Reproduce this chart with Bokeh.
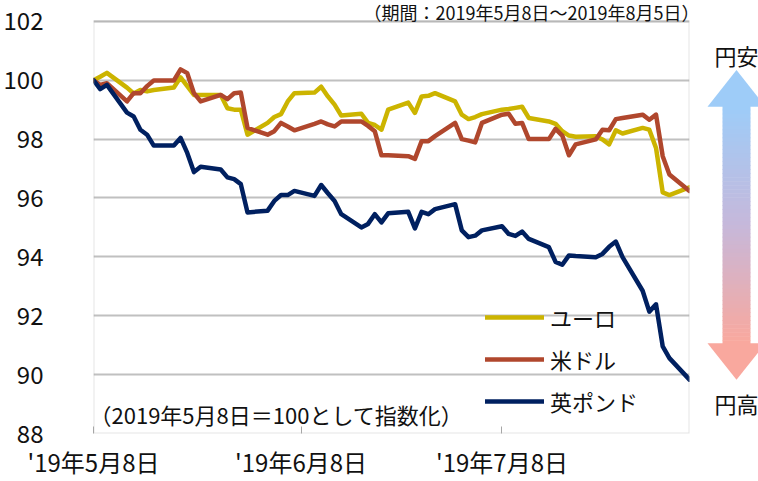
import pandas as pd
from bokeh.plotting import figure
from bokeh.models import Range1d, FixedTicker, Legend, LegendItem, Label, BoxAnnotation
from bokeh.layouts import row
from bokeh.core.properties import value
from bokeh.embed import file_html
from bokeh.resources import INLINE

# ---------------- data ----------------
dates = pd.bdate_range("2019-05-08", "2019-08-05")

euro = [100.0, 100.12, 100.25, 99.75, 99.55, 99.67, 99.62, 99.67, 99.75, 100.1,
        99.8, 99.5, 99.5, 99.5, 99.05, 99.0, 99.0, 98.15,
        98.55, 98.75, 98.85, 99.28, 99.56, 99.58, 99.78, 99.45, 99.17, 98.8,
        98.86, 98.55, 98.48, 98.32, 99.0, 99.24, 98.89, 99.45, 99.47, 99.56,
        99.28, 98.83, 98.68, 98.75, 98.85, 99.0, 99.02, 99.06, 99.1, 98.72,
        98.6, 98.52, 98.27, 98.12, 98.08, 98.1, 97.99, 97.82, 98.3, 98.19,
        98.38, 98.32, 97.7,
        96.19, 96.1, 96.36]

usd = [100.0, 99.84, 99.9, 99.28, 99.56, 99.56, 99.8, 99.99, 99.99, 100.37,
       100.24, 99.56, 99.28, 99.5, 99.36, 99.56, 99.58, 98.38,
       98.15, 98.27, 98.55, 98.43, 98.3, 98.52, 98.6, 98.5, 98.43, 98.6,
       98.6, 98.45, 98.27, 97.45, 97.45, 97.42, 97.33, 97.93, 97.93, 98.1,
       98.55, 98.0, 97.95, 97.89, 98.55, 98.83, 98.86, 98.52, 98.55, 98.0,
       98.0, 98.35, 98.12, 97.45, 97.82, 97.99, 98.32, 98.3, 98.68, 98.72,
       98.83, 98.66, 98.83,
       97.42, 96.8, 96.24]

gbp = [100.0, 99.7, 99.84, 98.9, 98.77, 98.32, 98.15, 97.78, 97.78, 98.04,
       97.53, 96.88, 97.06, 96.97, 96.70, 96.64, 96.47, 95.51,
       95.57, 95.9, 96.1, 96.1, 96.24, 96.07, 96.44, 96.16, 95.9, 95.45,
       95.0, 95.12, 95.45, 95.17, 95.48, 95.53, 94.97, 95.53, 95.45, 95.62,
       95.79, 94.9, 94.67, 94.72, 94.9, 95.04, 94.78, 94.71, 94.86, 94.61,
       94.33, 93.83, 93.73, 94.05, 94.03, 93.99, 94.1, 94.34, 94.52, 93.99,
       92.85, 92.14, 92.39,
       90.96, 90.56, 89.83]

series_names = ["ユーロ", "米ドル", "英ポンド"]
series_colors = ["#CCB400", "#B0472D", "#002060"]
y_ticks = [88, 90, 92, 94, 96, 98, 100, 102]
x_tick_dates = ["2019-05-08", "2019-06-08", "2019-07-08"]
x_tick_labels = ["'19年5月8日", "'19年6月8日", "'19年7月8日"]
title_text = "（期間：2019年5月8日～2019年8月5日）"
note_text = "（2019年5月8日＝100として指数化）"
arrow_labels = ["円安", "円高"]

FONT = "Noto Sans CJK JP"
GRAY = "#A6A6A6"


def ms(d):
    return pd.Timestamp(d).timestamp() * 1000.0


# ---------------- layout geometry (pixels) ----------------
W_MAIN, H = 698, 481
BORDER_L, BORDER_R, BORDER_B = 86, 9, 45
TOP_GAP = 21                      # space above the y=102 line (inside frame)
frame_h = H - BORDER_B
plot_h = frame_h - TOP_GAP
y_lo, y_hi = y_ticks[0], y_ticks[-1]
y_top = y_lo + (y_hi - y_lo) * frame_h / plot_h

# ---------------- main chart ----------------
p = figure(width=W_MAIN, height=H, x_axis_type="datetime",
           output_backend="svg", toolbar_location=None,
           x_range=Range1d(ms(dates[0]), ms(dates[-1])),
           y_range=Range1d(y_lo, y_top))
p.min_border_left = BORDER_L
p.min_border_right = BORDER_R
p.min_border_top = 0
p.min_border_bottom = BORDER_B
p.background_fill_color = "white"
p.border_fill_color = "white"
p.outline_line_color = None

p.ygrid.ticker = FixedTicker(ticks=y_ticks)
p.ygrid.grid_line_color = "#C0C0C0"
p.ygrid.grid_line_width = 2
p.xgrid.grid_line_color = None

frame_box = BoxAnnotation(top=y_hi, fill_alpha=0, line_color=GRAY, line_width=2)
p.add_layout(frame_box)

renderers = []
for vals, col in zip([euro, usd, gbp], series_colors):
    r = p.line(x=list(dates), y=vals, line_color=col, line_width=4.5,
               line_join="round", line_cap="round")
    renderers.append(r)

# axes
p.yaxis.ticker = FixedTicker(ticks=y_ticks)
p.yaxis.major_tick_line_color = None
p.yaxis.minor_tick_line_color = None
p.yaxis.axis_line_color = None
p.yaxis.major_label_text_font = FONT
p.yaxis.major_label_text_font_size = "24px"
p.yaxis.major_label_text_color = "#111111"
p.yaxis.major_label_standoff = 44

tick_ms = [int(ms(d)) for d in x_tick_dates]
p.xaxis.ticker = FixedTicker(ticks=tick_ms)
p.xaxis.major_label_overrides = {t: lab for t, lab in zip(tick_ms, x_tick_labels)}
p.xaxis.major_tick_in = 7
p.xaxis.major_tick_out = 0
p.xaxis.major_tick_line_color = GRAY
p.xaxis.major_tick_line_width = 1
p.xaxis.minor_tick_line_color = None
p.xaxis.axis_line_color = None
p.xaxis.major_label_text_font = FONT
p.xaxis.major_label_text_font_size = "24px"
p.xaxis.major_label_text_color = "#111111"
p.xaxis.major_label_standoff = 10

legend = Legend(items=[LegendItem(label=n, renderers=[r])
                       for n, r in zip(series_names, renderers)],
                location=(392, 16), orientation="vertical")
legend.glyph_width = 59
legend.glyph_height = 20
legend.label_height = 20
legend.spacing = 10
legend.padding = 0
legend.margin = 0
legend.label_standoff = 6
legend.border_line_alpha = 0
legend.background_fill_alpha = 0
legend.label_text_font = FONT
legend.label_text_font_size = "22px"
legend.label_text_color = "#111111"
p.add_layout(legend)

note = Label(x=-4, y=20, x_units="screen", y_units="screen", text=note_text,
             text_font=FONT, text_font_size="22px", text_color="#111111",
             text_baseline="middle", text_align="left")
p.add_layout(note)

title = Label(x=606, y=frame_h - 14, x_units="screen", y_units="screen", text=title_text,
              text_font=FONT, text_font_size="18px", text_color="#111111",
              text_baseline="middle", text_align="right")
p.add_layout(title)

# ---------------- arrow panel ----------------
# (its frame is aligned with the main chart's frame: 0 .. frame_h pixels)
q = figure(width=758 - W_MAIN, height=H, output_backend="svg", toolbar_location=None,
           x_range=Range1d(0, 758 - W_MAIN), y_range=Range1d(frame_h, 0),
           x_axis_location=None, y_axis_location=None, min_border=0)
q.min_border_left = 0
q.min_border_right = 0
q.min_border_top = 0
q.min_border_bottom = 0
q.grid.visible = False
q.outline_line_color = None
q.background_fill_color = "white"
q.border_fill_color = "white"

top_c = (158, 204, 248)
mid_c = (198, 184, 218)
bot_c = (249, 168, 158)


def mix(a, b, t):
    return "#%02x%02x%02x" % tuple(int(round(a[i] + (b[i] - a[i]) * t)) for i in range(3))


cx = 38
shaft_top, shaft_bot = 106, 346
n = 60
tops, bots, cols = [], [], []
for i in range(n):
    t = i / (n - 1)
    y0 = shaft_top + (shaft_bot - shaft_top) * i / n
    y1 = shaft_top + (shaft_bot - shaft_top) * (i + 1) / n + 0.6
    tops.append(y0)
    bots.append(y1)
    cols.append(mix(top_c, mid_c, t * 2) if t < 0.5 else mix(mid_c, bot_c, (t - 0.5) * 2))
q.quad(left=cx - 14, right=cx + 14, top=tops, bottom=bots,
       fill_color=cols, line_color=None)
q.patch(x=[cx - 29, cx, cx + 29], y=[107, 70, 107],
        fill_color=mix(top_c, top_c, 0), line_color=None)
q.patch(x=[cx - 29, cx, cx + 29], y=[345, 382, 345],
        fill_color=mix(bot_c, bot_c, 0), line_color=None)
q.text(x=[cx, cx], y=[55, 405], text=arrow_labels,
       text_font=value(FONT), text_font_size="22px", text_color="#111111",
       text_align="center", text_baseline="middle")

layout = row(p, q)
open("out.html", "w").write(file_html(layout, INLINE))
